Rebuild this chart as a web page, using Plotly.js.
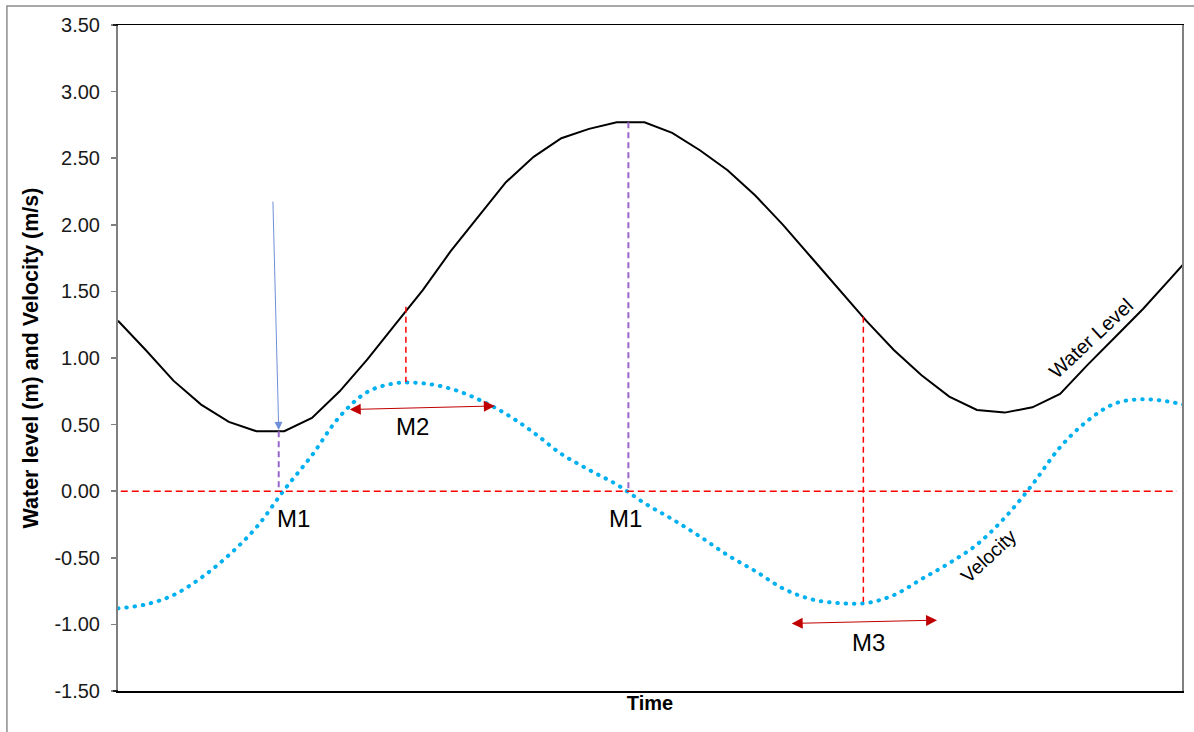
<!DOCTYPE html>
<html>
<head>
<meta charset="utf-8">
<script src="https://cdn.plot.ly/plotly-3.0.1.min.js"></script>
<style>html,body{margin:0;padding:0;background:#fff;}#chart{width:1194px;height:732px;}</style>
</head>
<body>
<div id="chart"></div>
<script>
// Time steps (category index along the time axis)
const time = [0,1,2,3,4,5,6,7,8,9,10,11,12,13,14,15,16,17,18,19,20,21,22,23,24,25,26,27,28,29,30,31,32,33,34,35,36,37,38,39];
// Water level (m)
const waterLevel = [1.28,1.06,0.83,0.65,0.52,0.45,0.45,0.55,0.75,0.99,1.25,1.51,1.80,2.06,2.32,2.51,2.65,2.72,2.77,2.77,2.69,2.56,2.41,2.22,2.00,1.76,1.52,1.28,1.06,0.87,0.71,0.61,0.59,0.63,0.73,0.95,1.16,1.37,1.60,1.83];
// Velocity (m/s)
const velocity = [-0.88,-0.85,-0.78,-0.65,-0.48,-0.27,0.01,0.27,0.56,0.745,0.81,0.81,0.77,0.69,0.58,0.44,0.28,0.16,0.05,-0.09,-0.21,-0.34,-0.48,-0.60,-0.73,-0.81,-0.84,-0.84,-0.78,-0.66,-0.54,-0.40,-0.20,0.05,0.33,0.53,0.66,0.69,0.67,0.62];
// Y tick values and labels
const yTicks = [-1.5,-1.0,-0.5,0,0.5,1.0,1.5,2.0,2.5,3.0,3.5];
const yTickText = yTicks.map(function (v) { return v.toFixed(2); });

const FONT = 'Arial, "Liberation Sans", sans-serif';

const traces = [
  {x: time, y: waterLevel, type: 'scatter', mode: 'lines', name: 'Water Level',
   line: {color: '#000000', width: 2}, hoverinfo: 'skip'},
  {x: time, y: velocity, type: 'scatter', mode: 'lines', name: 'Velocity',
   line: {color: '#00B0F0', width: 4, dash: '0.5px,7.8px', shape: 'spline', smoothing: 1}, hoverinfo: 'skip'}
];

const red = '#FF0000', purple = '#9966CC', dred = '#C00000';
const shapes = [
  // outer frame (left and top edges visible)
  {type: 'path', xref: 'paper', yref: 'paper', path: 'M -0.1044,-0.2 L -0.1044,1.0285 L 1.2,1.0285', line: {color: '#8c8c8c', width: 1.5}},
  // extensions of top/bottom black lines
  {type: 'line', xref: 'paper', yref: 'paper', x0: -0.0047, x1: 0, y0: 1, y1: 1, line: {color: '#000', width: 1.5}},
  {type: 'line', xref: 'paper', yref: 'paper', x0: -0.0047, x1: 0, y0: 0, y1: 0, line: {color: '#000', width: 1.5}},
  // zero line
  {type: 'line', xref: 'x', yref: 'y', x0: 0.1, x1: 38.22, y0: 0, y1: 0, line: {color: red, width: 1.5, dash: '7px,4px'}},
  // purple verticals
  {type: 'line', xref: 'x', yref: 'y', x0: 5.8, x1: 5.8, y0: 0.45, y1: 0, line: {color: purple, width: 2, dash: '6px,4px'}},
  {type: 'line', xref: 'x', yref: 'y', x0: 18.42, x1: 18.42, y0: 2.77, y1: 0, line: {color: purple, width: 2, dash: '6px,4px'}},
  // red verticals
  {type: 'line', xref: 'x', yref: 'y', x0: 10.39, x1: 10.39, y0: 1.384, y1: 0.82, line: {color: red, width: 1.5, dash: '6px,4px'}},
  {type: 'line', xref: 'x', yref: 'y', x0: 26.9, x1: 26.9, y0: 1.309, y1: -0.831, line: {color: red, width: 1.5, dash: '6px,4px'}}
];

const annotations = [
  // blue arrow
  {x: 5.8, y: 0.46, ax: 5.59, ay: 2.185, xref: 'x', yref: 'y', axref: 'x', ayref: 'y', text: '', showarrow: true,
   arrowhead: 2, arrowsize: 1.6, arrowwidth: 1, arrowcolor: '#6F8FD8'},
  // M2 double arrow
  {x: 13.6, y: 0.64, ax: 8.31, ay: 0.613, xref: 'x', yref: 'y', axref: 'x', ayref: 'y', text: '', showarrow: true,
   arrowside: 'end+start', arrowhead: 2, startarrowhead: 2, arrowsize: 2.2, startarrowsize: 2.2, arrowwidth: 1, arrowcolor: dred},
  // M3 double arrow
  {x: 29.56, y: -0.968, ax: 24.26, ay: -0.993, xref: 'x', yref: 'y', axref: 'x', ayref: 'y', text: '', showarrow: true,
   arrowside: 'end+start', arrowhead: 2, startarrowhead: 2, arrowsize: 2.2, startarrowsize: 2.2, arrowwidth: 1, arrowcolor: dred},
  // labels
  {x: 6.33, y: -0.203, xref: 'x', yref: 'y', text: 'M1', showarrow: false, font: {family: FONT, size: 24, color: '#000'}},
  {x: 18.33, y: -0.203, xref: 'x', yref: 'y', text: 'M1', showarrow: false, font: {family: FONT, size: 24, color: '#000'}},
  {x: 10.63, y: 0.488, xref: 'x', yref: 'y', text: 'M2', showarrow: false, font: {family: FONT, size: 24, color: '#000'}},
  {x: 27.07, y: -1.137, xref: 'x', yref: 'y', text: 'M3', showarrow: false, font: {family: FONT, size: 24, color: '#000'}},
  {x: 35.13, y: 1.149, xref: 'x', yref: 'y', text: 'Water Level', showarrow: false, textangle: -43, font: {family: FONT, size: 20, color: '#000'}},
  {x: 31.41, y: -0.488, xref: 'x', yref: 'y', text: 'Velocity', showarrow: false, textangle: -43, font: {family: FONT, size: 19.5, color: '#000'}}
];

const layout = {
  width: 1194, height: 732,
  margin: {l: 118, r: 12, t: 25, b: 41, pad: 0},
  paper_bgcolor: '#ffffff', plot_bgcolor: '#ffffff',
  showlegend: false,
  font: {family: FONT, color: '#000'},
  xaxis: {
    range: [0, 38.4], showticklabels: false, ticks: '', showgrid: false, zeroline: false,
    showline: true, mirror: true, linecolor: '#000000', linewidth: 1.5,
    title: {text: '<b>Time</b>', font: {family: FONT, size: 20, color: '#000'}, standoff: 4}
  },
  yaxis: {
    range: [-1.5, 3.5], tickvals: yTicks, ticktext: yTickText, showgrid: false, zeroline: false,
    ticks: 'outside', ticklen: 5, tickwidth: 1.5, tickcolor: '#808080',
    showline: true, mirror: true, linecolor: '#808080', linewidth: 2,
    tickfont: {family: FONT, size: 20, color: '#1a1a1a'}, ticklabelstandoff: 7,
    title: {text: '<b>Water level (m) and Velocity (m/s)</b>', font: {family: FONT, size: 21.5, color: '#000'}, standoff: 10}
  },
  shapes: shapes,
  annotations: annotations
};

Plotly.newPlot('chart', traces, layout, {staticPlot: true, displayModeBar: false}).then(function () {
  const tr = document.querySelectorAll('.scatterlayer .trace');
  if (tr.length > 1) {
    tr[1].querySelectorAll('path.js-line').forEach(function (p) { p.style.strokeLinecap = 'round'; });
  }
});
</script>
</body>
</html>
